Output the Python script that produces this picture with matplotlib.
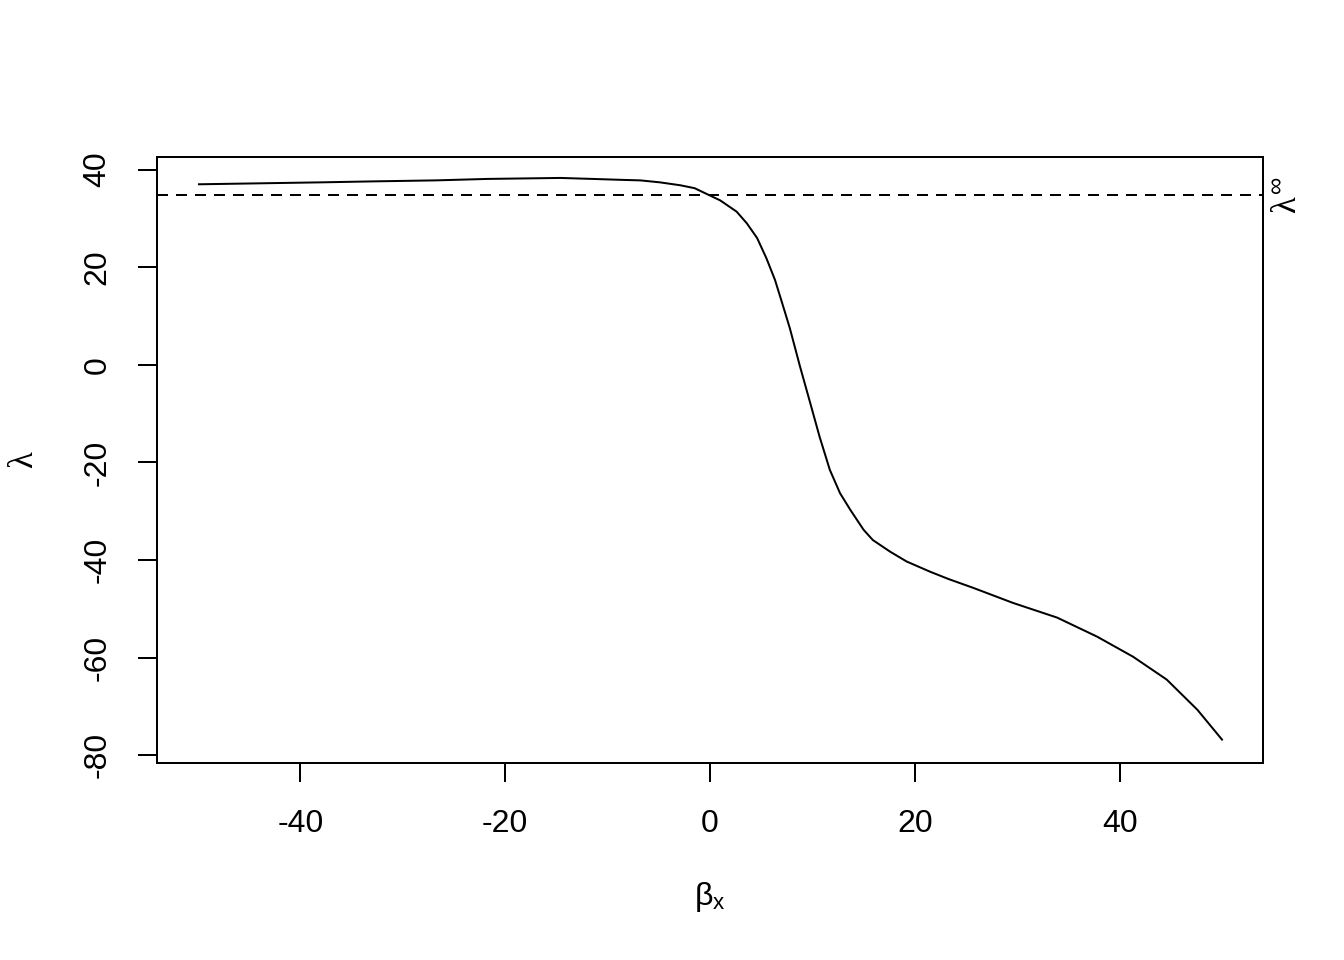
import matplotlib
matplotlib.use("Agg")
import matplotlib.pyplot as plt

plt.rcParams['font.family'] = ['Liberation Sans', 'DejaVu Sans']
plt.rcParams['mathtext.fontset'] = 'custom'
plt.rcParams['mathtext.rm'] = 'Liberation Sans'
plt.rcParams['mathtext.it'] = 'Liberation Serif'

# curva lambda frente a beta_x
beta_x = [-49.9, -43.9, -37.9, -32.8, -26.8, -21.7, -14.6, -11.5, -8.5, -6.8,
          -4.9, -2.9, -1.5, -0.3, 1.0, 2.6, 3.6, 4.6, 5.5, 6.35,
          7.0, 7.8, 8.8, 9.8, 10.7, 11.7, 12.7, 13.7, 15.0, 15.9,
          17.6, 19.2, 21.5, 23.3, 25.7, 29.6, 33.9, 37.8, 41.3, 44.6,
          47.6, 50.0]
lam = [37.0, 37.2, 37.4, 37.6, 37.8, 38.1, 38.3, 38.1, 37.9, 37.8,
       37.4, 36.8, 36.2, 35.0, 33.7, 31.4, 29.0, 26.0, 21.9, 17.4,
       13.0, 7.5, -0.4, -7.9, -14.7, -21.5, -26.3, -29.7, -33.8, -35.9,
       -38.3, -40.3, -42.4, -43.9, -45.7, -48.8, -51.8, -55.7, -59.8, -64.5,
       -70.7, -76.8]
lam_inf = 34.8

xticks = [-40, -20, 0, 20, 40]
yticks = [-80, -60, -40, -20, 0, 20, 40]

fig = plt.figure(figsize=(7, 5), dpi=192)
ax = fig.add_axes([0.1168, 0.2052, 0.8229, 0.6313])

ax.plot(beta_x, lam, color='black', lw=0.75)
ax.axhline(lam_inf, color='black', lw=0.75, dashes=(5.5, 4))

ax.set_xlim(-54, 54)
ax.set_ylim(-81.6, 42.6)
ax.set_xticks(xticks)
ax.set_yticks(yticks)
ax.set_xticklabels([str(v) for v in xticks])
ax.set_yticklabels([str(v) for v in yticks], rotation=90, va='center')
ax.tick_params(direction='out', length=7.2, width=0.75, labelsize=12, pad=10)
ax.tick_params(axis='y', pad=9.5)
for s in ax.spines.values():
    s.set_linewidth(0.75)

fig.text(710 / 1344, 1 - 897 / 960, r'$\mathrm{β}_{\mathrm{x}}$', fontsize=12,
         ha='center', va='center')
fig.text(24 / 1344, 1 - 460 / 960, 'λ', family='Liberation Serif', fontsize=13,
         rotation=90, ha='center', va='center')
ax.annotate(r'$\mathit{λ}^{\infty}$', xy=(1, lam_inf), xycoords=('axes fraction', 'data'),
            xytext=(2.5, 0), textcoords='offset points', rotation=90,
            ha='left', va='center', fontsize=13)

fig.savefig('out.png', dpi=192)
